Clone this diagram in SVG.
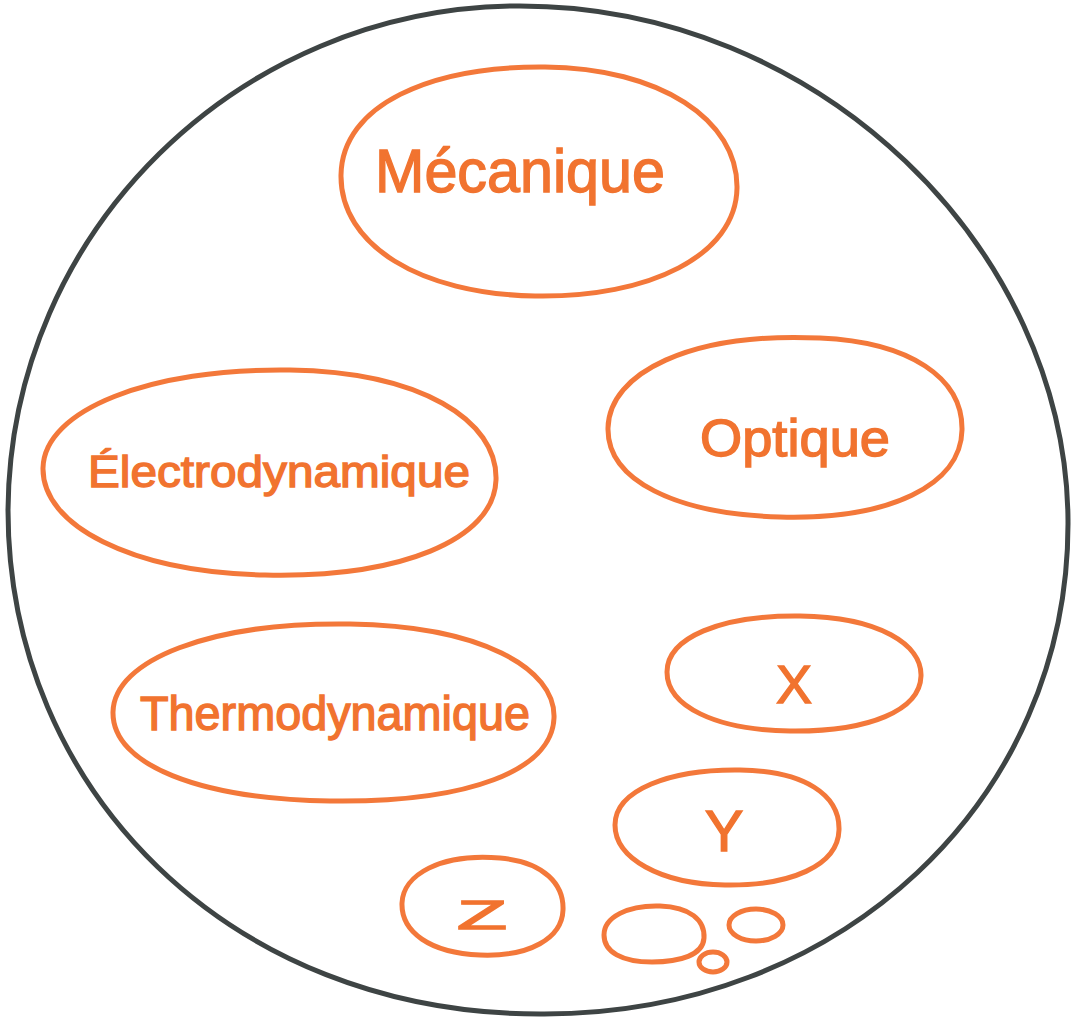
<svg xmlns="http://www.w3.org/2000/svg" width="1076" height="1020" viewBox="0 0 1076 1020">
  <style>
    .frame { fill: none; stroke: #3e4444; stroke-width: 5; }
    .bubble { fill: none; stroke: #f3783a; stroke-width: 5; }
    .label { fill: #f1732f; stroke: #f1732f; stroke-width: 1.4; font-family: "Liberation Sans", "DejaVu Sans", sans-serif; font-weight: normal; }
  </style>
  <rect width="1076" height="1020" fill="#ffffff"/>

  <!-- outer boundary -->
  <g id="boundary">
    <path class="frame" d="M 516 6 C 820 4 1066 250 1068 520 C 1070 800 840 1016 540 1014 C 230 1014 8 790 8 510 C 10 230 240 8 516 6 Z"/>
  </g>

  <g id="mecanique">
    <path class="bubble" d="M 545 67 C 660 68 738 120 737 188 C 736 255 650 298 535 296 C 420 294 340 245 341 175 C 342 105 430 66 545 67 Z"/>
    <text class="label" x="375" y="192" font-size="62" textLength="290" lengthAdjust="spacingAndGlyphs">Mécanique</text>
  </g>

  <g id="optique">
    <path class="bubble" d="M 820 338 C 910 342 963 378 962 430 C 961 485 890 520 780 517 C 675 514 607 480 608 428 C 609 373 690 332 820 338 Z"/>
    <text class="label" x="700" y="456" font-size="52" textLength="190" lengthAdjust="spacingAndGlyphs">Optique</text>
  </g>

  <g id="electrodynamique">
    <path class="bubble" d="M 290 370 C 420 372 498 420 496 480 C 494 540 400 578 265 575 C 130 572 42 525 43 468 C 44 410 150 368 290 370 Z"/>
    <text class="label" x="88" y="487" font-size="44" textLength="382" lengthAdjust="spacingAndGlyphs">Électrodynamique</text>
  </g>

  <g id="thermodynamique">
    <path class="bubble" d="M 350 624 C 480 626 556 668 554 718 C 552 770 470 803 330 801 C 200 799 112 765 113 712 C 114 660 210 622 350 624 Z"/>
    <text class="label" x="140" y="730" font-size="48" textLength="390" lengthAdjust="spacingAndGlyphs">Thermodynamique</text>
  </g>

  <g id="x">
    <path class="bubble" d="M 800 616 C 880 617 922 645 921 676 C 920 710 870 732 790 731 C 715 730 667 706 667 672 C 667 638 720 615 800 616 Z"/>
    <text class="label" x="794" y="703" font-size="54" text-anchor="middle">X</text>
  </g>

  <g id="y">
    <path class="bubble" d="M 740 770 C 805 771 840 795 839 830 C 838 866 790 886 725 885 C 660 884 615 858 615 825 C 615 790 670 769 740 770 Z"/>
    <text class="label" x="724" y="851" font-size="58" text-anchor="middle">Y</text>
  </g>

  <g id="z">
    <path class="bubble" d="M 500 858 C 545 862 564 885 563 910 C 562 938 530 957 480 955 C 430 953 401 932 402 903 C 403 875 440 853 500 858 Z"/>
    <text class="label" x="457" y="929" font-size="40" textLength="50" lengthAdjust="spacingAndGlyphs">Z</text>
  </g>

  <g id="dot-large">
    <path class="bubble" d="M 660 906 C 690 907 705 920 704 938 C 703 955 680 962 652 962 C 622 962 604 952 604 935 C 604 917 628 905 660 906 Z"/>
  </g>
  <g id="dot-medium">
    <ellipse class="bubble" cx="756" cy="925" rx="27" ry="16"/>
  </g>
  <g id="dot-small">
    <ellipse class="bubble" cx="713" cy="962" rx="14" ry="10"/>
  </g>
</svg>
